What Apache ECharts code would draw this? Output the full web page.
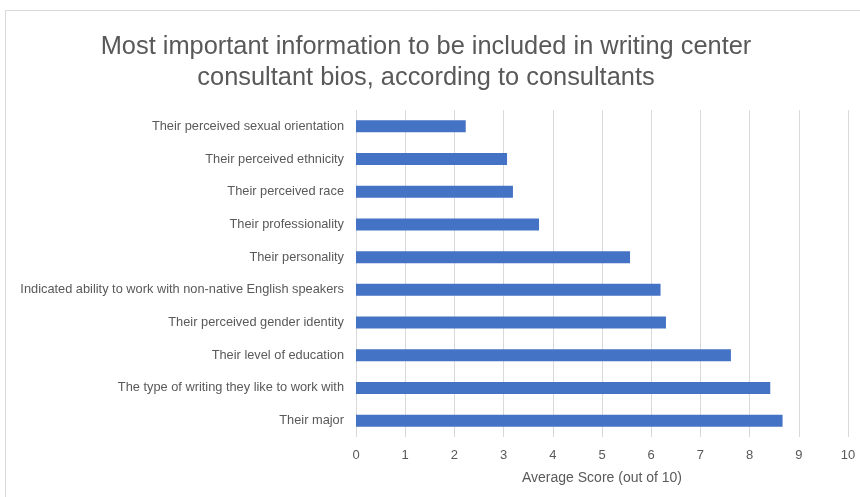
<!DOCTYPE html>
<html><head><meta charset="utf-8">
<script src="https://cdn.jsdelivr.net/npm/echarts@6/dist/echarts.min.js"></script>
<style>html,body{margin:0;padding:0;background:#fff}#c{width:860px;height:497px}</style>
</head><body><div id="c"></div>
<script>
const categories = [
  "Their perceived sexual orientation",
  "Their perceived ethnicity",
  "Their perceived race",
  "Their professionality",
  "Their personality",
  "Indicated ability to work with non-native English speakers",
  "Their perceived gender identity",
  "Their level of education",
  "The type of writing they like to work with",
  "Their major"
];
const scores = [2.23, 3.07, 3.19, 3.72, 5.57, 6.19, 6.30, 7.62, 8.42, 8.67];
const titleText = "Most important information to be included in writing center\nconsultant bios, according to consultants";
const xAxisName = "Average Score (out of 10)";

const chart = echarts.init(document.getElementById('c'), null, {renderer:'canvas'});
const font = "'Liberation Sans', sans-serif";
chart.setOption({
  backgroundColor: '#fff',
  animation: false,
  graphic: [{
    type: 'rect', shape: {x: 5.5, y: 10.5, width: 860, height: 500},
    style: {fill: 'none', stroke: '#d9d9d9', lineWidth: 1}, silent: true
  }],
  title: {
    text: titleText, left: 421, top: 26, textAlign: 'center',
    textStyle: {fontFamily: font, fontSize: 25.4, fontWeight: 'normal', color: '#595959', lineHeight: 31}
  },
  grid: {left: 356, right: 12, top: 110, bottom: 60, containLabel: false},
  xAxis: {
    type: 'value', min: 0, max: 10, interval: 1,
    name: xAxisName, nameLocation: 'middle', nameGap: 34,
    nameTextStyle: {fontFamily: font, fontSize: 14, color: '#595959'},
    axisLine: {show: false}, axisTick: {show: false},
    axisLabel: {fontFamily: font, fontSize: 13, color: '#595959', margin: 12},
    splitLine: {lineStyle: {color: '#d9d9d9', width: 1}}
  },
  yAxis: {
    type: 'category', data: categories, inverse: true,
    axisLine: {show: false}, axisTick: {show: false},
    axisLabel: {fontFamily: font, fontSize: 12.8, color: '#595959', margin: 12}
  },
  series: [{
    type: 'bar', data: scores, barWidth: 12,
    itemStyle: {color: '#4472C4'}
  }]
});
</script></body></html>
